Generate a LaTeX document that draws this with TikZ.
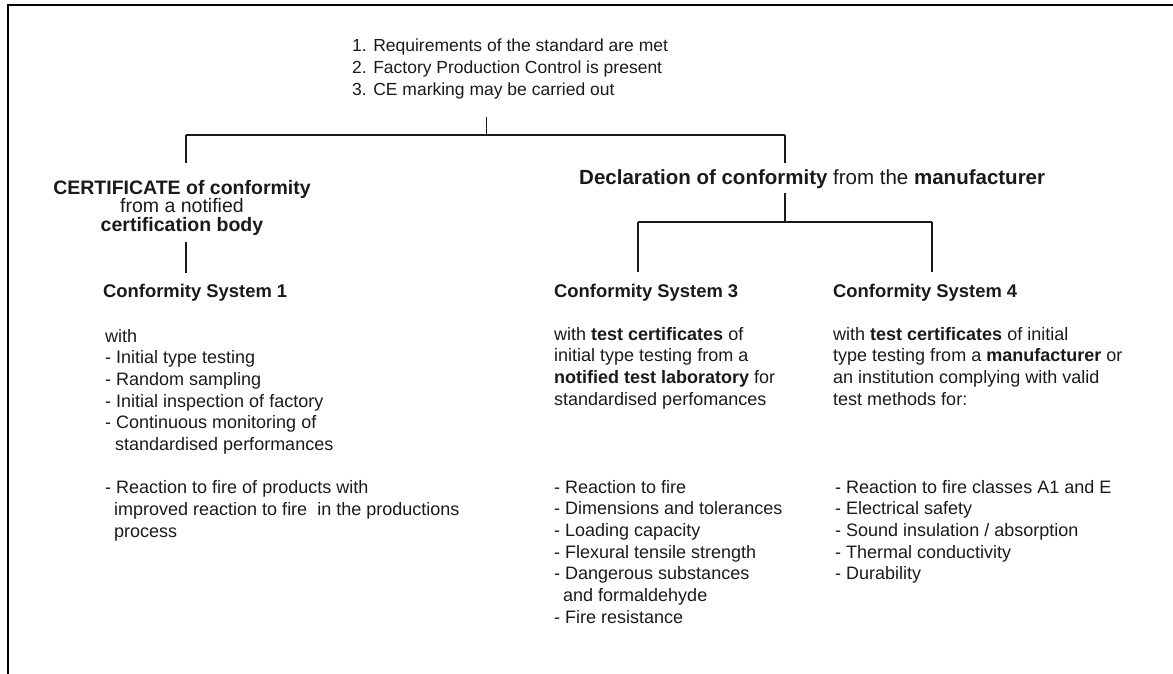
\documentclass[tikz,border=0pt]{standalone}
\usepackage{fontspec}
\setmainfont{Liberation Sans}
\definecolor{ink}{HTML}{1A1A1A}
\begin{document}
\begin{tikzpicture}[x=1pt,y=-1pt,
  txt/.style={inner sep=0pt, anchor=base west, align=left, text=ink,
              font=\fontsize{18}{21.7}\selectfont},
  head/.style={inner sep=0pt, anchor=base west, text=ink,
              font=\fontsize{18.4}{22}\selectfont\bfseries},
  conn/.style={draw=ink, line width=1.5pt},
  thin/.style={draw=ink, line width=0.9pt},
  frame/.style={draw=black, line width=2pt}]
\useasboundingbox (0,0) rectangle (1173,674);
% frame
\draw[frame] (7.5,674) -- (7.5,5) -- (1173,5);

% top requirement text (anchor at baseline of last line)
\node[txt, font=\fontsize{17.5}{22}\selectfont] (req) at (352,96)
  {1. Requirements of the standard are met\\2. Factory Production Control is present\\3. CE marking may be carried out};

% connector coordinates
\coordinate (tA) at (486,117); \coordinate (tB) at (486,135);
\coordinate (hL) at (186,135); \coordinate (hR) at (785,135);
\coordinate (cTop) at (186,163); \coordinate (dTop) at (785,163);
\coordinate (cBot) at (186,242); \coordinate (s1Top) at (186,273);
\coordinate (dBot) at (785,193); \coordinate (jM) at (785,222);
\coordinate (jL) at (638,222); \coordinate (jR) at (932,222);
\coordinate (s3Top) at (638,272); \coordinate (s4Top) at (932,272);

\draw[thin] (tA) -- (tB);
\draw[draw=ink, line width=1.2pt] (hL) -- (hR);
\draw[conn] (hL) -- (cTop);
\draw[conn] (hR) -- (dTop);
\draw[conn] (cBot) -- (s1Top);
\draw[conn] (dBot) -- (jM);
\draw[conn] (jL) -- (jR);
\draw[conn] (jL) -- (s3Top);
\draw[conn] (jR) -- (s4Top);

% certificate block
\node[inner sep=0pt, anchor=base, align=center, text=ink,
      font=\fontsize{19.5}{18.5}\selectfont] (cert) at (182,231)
  {\textbf{CERTIFICATE of conformity}\\from a notified\\\textbf{certification body}};

% declaration
\node[inner sep=0pt, anchor=base west, text=ink,
      font=\fontsize{20.5}{24}\selectfont] (decl) at (579,185)
  {\textbf{Declaration of conformity} from the \textbf{manufacturer}};

% headings
\node[head] (s1) at (103,297) {Conformity System 1};
\node[head] (s3) at (554,297) {Conformity System 3};
\node[head] (s4) at (833,297) {Conformity System 4};

% left column
\node[txt] (l1) at (105,537.3)
  {with\\- Initial type testing\\- Random sampling\\- Initial inspection of factory\\- Continuous monitoring of\\\hspace*{10pt}standardised performances\\[21.7pt]%
   - Reaction to fire of products with\\\hspace*{9pt}improved reaction to fire\ \ in the productions\\\hspace*{9pt}process};

% middle column
\node[txt] (p3) at (554,405.1)
  {with \textbf{test certificates} of\\initial type testing from a\\\textbf{notified test laboratory} for\\standardised perfomances};
\node[txt] (l3) at (554,623.2)
  {- Reaction to fire\\- Dimensions and tolerances\\- Loading capacity\\- Flexural tensile strength\\- Dangerous substances\\\hspace*{9pt}and formaldehyde\\- Fire resistance};

% right column
\node[txt] (p4) at (833,405.1)
  {with \textbf{test certificates} of initial\\type testing from a \textbf{manufacturer} or\\an institution complying with valid\\test methods for:};
\node[txt] (l4) at (835,579.8)
  {- Reaction to fire classes A1 and E\\- Electrical safety\\- Sound insulation / absorption\\- Thermal conductivity\\- Durability};
\end{tikzpicture}
\end{document}
